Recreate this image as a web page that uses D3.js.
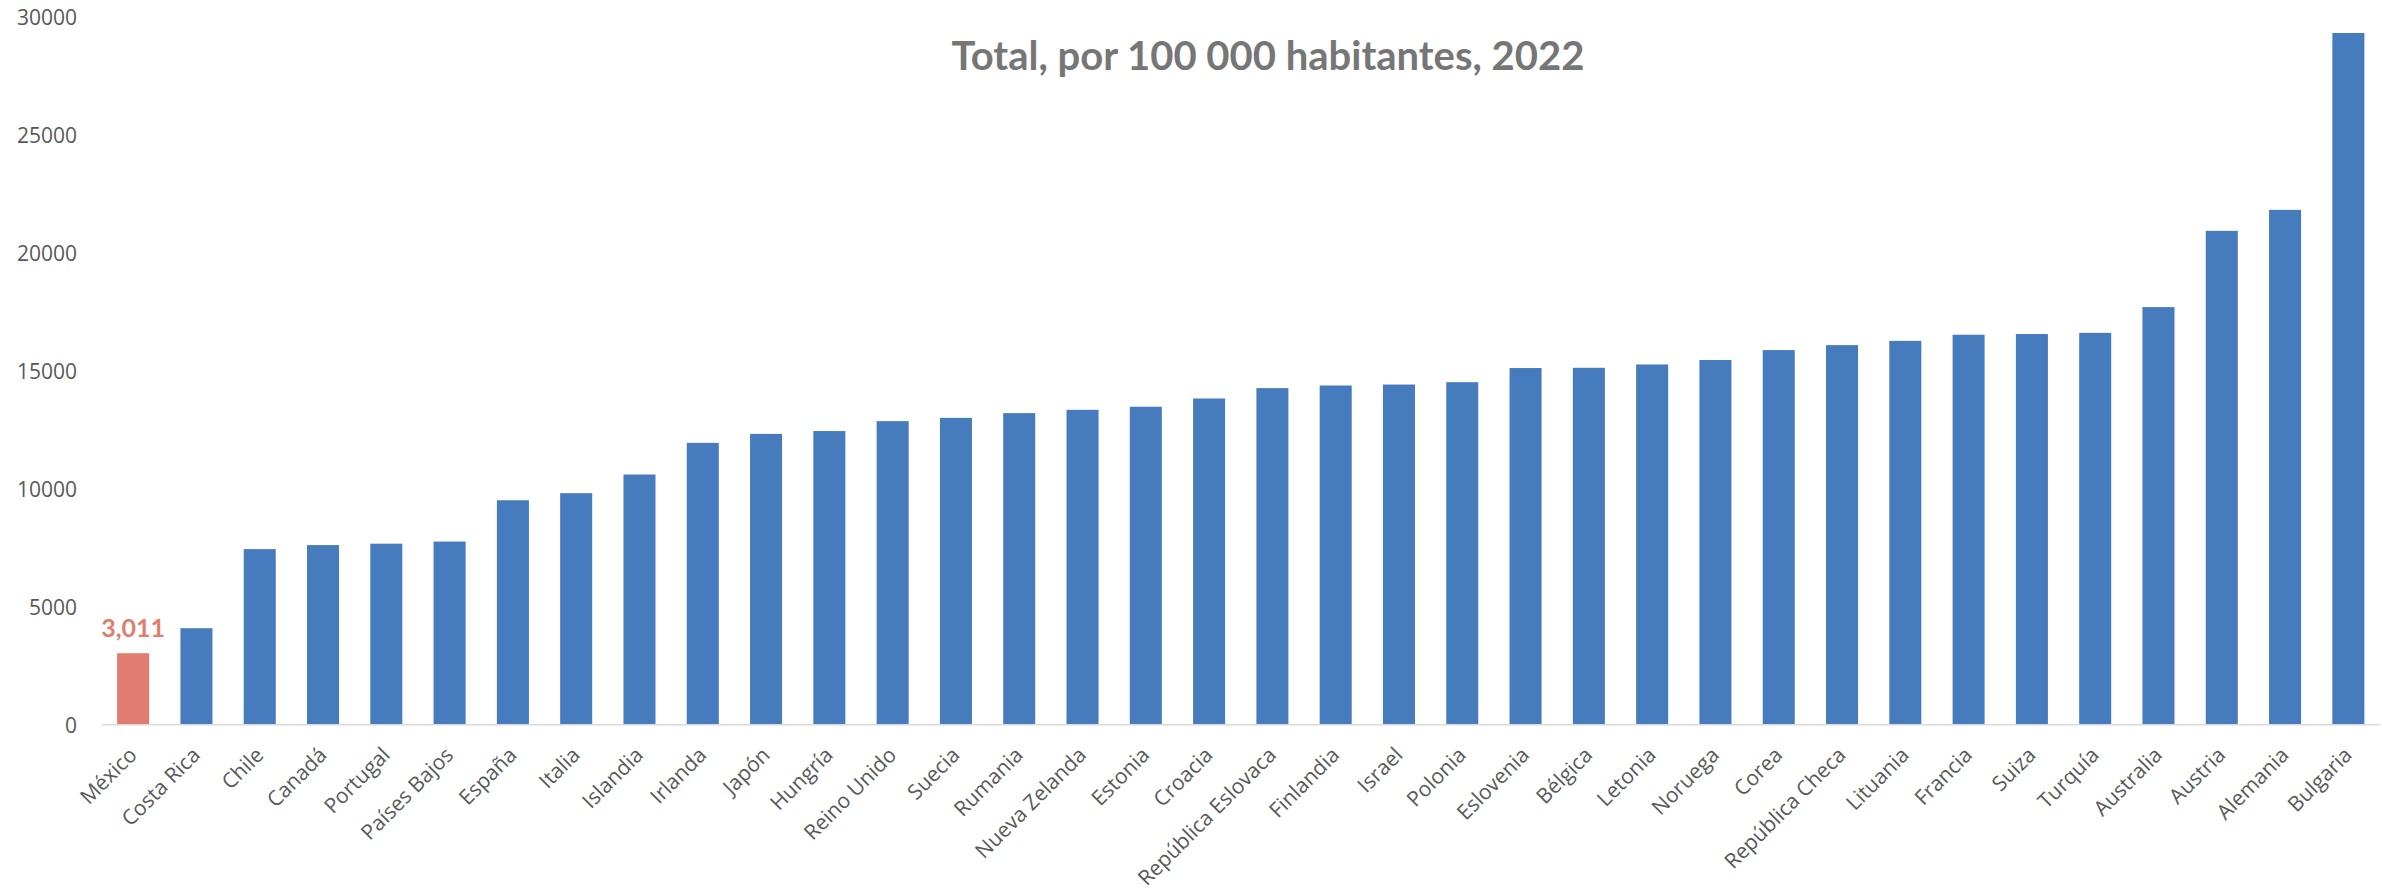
<!DOCTYPE html>
<html>
<head>
<meta charset="utf-8">
<script src="https://cdn.jsdelivr.net/npm/d3@7"></script>
<style>
  body { margin: 0; background: #ffffff; }
  svg { display: block; }
</style>
</head>
<body>
<svg id="chart" width="2382" height="890"></svg>
<script>
// Countries, ordered from lowest to highest rate
const countries = [
  "México", "Costa Rica", "Chile", "Canadá", "Portugal", "Países Bajos",
  "España", "Italia", "Islandia", "Irlanda", "Japón", "Hungría",
  "Reino Unido", "Suecia", "Rumania", "Nueva Zelanda", "Estonia", "Croacia",
  "República Eslovaca", "Finlandia", "Israel", "Polonia", "Eslovenia", "Bélgica",
  "Letonia", "Noruega", "Corea", "República Checa", "Lituania", "Francia",
  "Suiza", "Turquía", "Australia", "Austria", "Alemania", "Bulgaria"
];

// Total per 100 000 inhabitants, 2022
const values = [
  3011, 4070, 7420, 7590, 7650, 7740,
  9490, 9790, 10580, 11920, 12300, 12420,
  12840, 12980, 13180, 13320, 13450, 13800,
  14240, 14350, 14390, 14490, 15090, 15100,
  15240, 15430, 15850, 16060, 16240, 16500,
  16530, 16580, 17670, 20900, 21790, 29280
];

const highlighted = ["México"];
const yTicks = [0, 5000, 10000, 15000, 20000, 25000, 30000];
const titleText = "Total, por 100 000 habitantes, 2022";

const data = countries.map((c, i) => ({ country: c, value: values[i] }));

const svg = d3.select("#chart");

const colors = { bar: "#467CBE", accent: "#E17D70", text: "#595959", title: "#767676", axis: "#D9D9D9" };

const plot = { left: 101.5, right: 2380, top: 16, bottom: 724.3 };

const x = d3.scaleBand()
  .domain(countries)
  .range([plot.left, plot.right])
  .paddingInner(0.494)
  .paddingOuter(0.247);

const y = d3.scaleLinear()
  .domain([0, 30000])
  .range([plot.bottom, plot.top]);

// Title
svg.append("text")
  .attr("x", 1268)
  .attr("y", 70)
  .attr("text-anchor", "middle")
  .style("font-family", "Lato, 'Open Sans', sans-serif")
  .style("font-weight", "700")
  .style("font-size", "40px")
  .style("fill", colors.title)
  .text(titleText);

// Y axis (labels only)
const yAxis = svg.append("g")
  .attr("transform", `translate(${plot.left},0)`)
  .call(d3.axisLeft(y).tickValues(yTicks).tickSize(0).tickPadding(24.5).tickFormat(d3.format("d")));
yAxis.select(".domain").remove();
yAxis.selectAll("text")
  .attr("dy", "0.4em")
  .style("font-family", "'Open Sans', sans-serif")
  .style("font-size", "21px")
  .style("fill", colors.text);

// Bars
svg.append("g")
  .selectAll("rect")
  .data(data)
  .join("rect")
  .attr("x", d => x(d.country))
  .attr("y", d => y(d.value))
  .attr("width", x.bandwidth())
  .attr("height", d => y(0) - y(d.value))
  .attr("fill", d => highlighted.includes(d.country) ? colors.accent : colors.bar);

// Value label on the highlighted bar
svg.append("g")
  .selectAll("text")
  .data(data.filter(d => highlighted.includes(d.country)))
  .join("text")
  .attr("x", d => x(d.country) + x.bandwidth() / 2)
  .attr("y", d => y(d.value) - 16)
  .attr("text-anchor", "middle")
  .style("font-family", "Lato, 'Open Sans', sans-serif")
  .style("font-weight", "700")
  .style("font-size", "25px")
  .style("fill", colors.accent)
  .text(d => d3.format(",")(d.value));

// X axis with rotated category labels
const xAxis = svg.append("g")
  .attr("transform", `translate(0,${plot.bottom})`)
  .call(d3.axisBottom(x).tickSize(0).tickSizeOuter(0));
xAxis.select(".domain")
  .attr("stroke", colors.axis)
  .attr("stroke-width", 1.5);
xAxis.selectAll(".tick text")
  .attr("x", 0)
  .attr("y", 0)
  .attr("dy", 0)
  .attr("transform", "translate(5,32) rotate(-45)")
  .style("text-anchor", "end")
  .style("font-family", "'Open Sans', sans-serif")
  .style("font-size", "21px")
  .style("fill", colors.text);
</script>
</body>
</html>
